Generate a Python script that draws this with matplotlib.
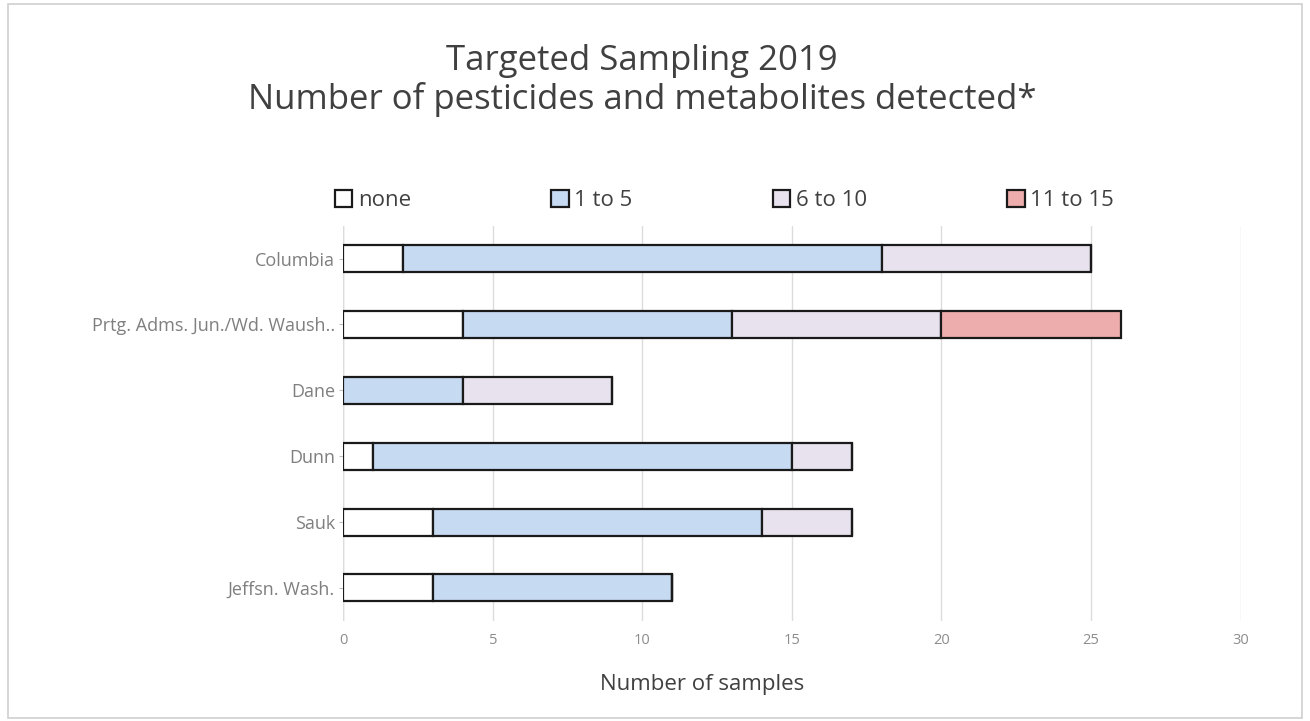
import matplotlib.pyplot as plt
import numpy as np

plt.rcParams['font.family'] = ['Open Sans', 'DejaVu Sans']

counties = ['Columbia', 'Prtg. Adms. Jun./Wd. Waush..', 'Dane', 'Dunn', 'Sauk', 'Jeffsn. Wash.']
none_vals = [2, 4, 0, 1, 3, 3]
one_to_five = [16, 9, 4, 14, 11, 8]
six_to_ten = [7, 7, 5, 2, 3, 0]
eleven_to_fifteen = [0, 6, 0, 0, 0, 0]

series = [
    ('none', none_vals, '#ffffff'),
    ('1 to 5', one_to_five, '#c6daf2'),
    ('6 to 10', six_to_ten, '#e8e2ee'),
    ('11 to 15', eleven_to_fifteen, '#eeadad'),
]

fig = plt.figure(figsize=(13.1, 7.21), dpi=100)
ax = fig.add_axes([0.262, 0.139, 0.685, 0.548])

y = np.arange(len(counties))
left = np.zeros(len(counties))
for label, vals, color in series:
    vals = np.array(vals, dtype=float)
    ax.barh(y, vals, left=left, height=0.41, color=color, edgecolor='#1a1a1a',
            linewidth=1.6, label=label, zorder=3)
    left += vals

ax.set_xlim(0, 30)
ax.set_ylim(len(counties) - 0.5, -0.5)
ax.set_yticks(y)
ax.set_yticklabels(counties, fontsize=13, color='#7f7f7f')
ax.set_xticks(np.arange(0, 31, 5))
ax.tick_params(axis='x', length=0, labelsize=10.5, labelcolor='#8c8c8c', pad=9)
ax.tick_params(axis='y', length=3, color='#bfbfbf', pad=3)
for s in ax.spines.values():
    s.set_visible(False)
ax.grid(axis='x', color='#dcdcdc', linewidth=1, zorder=0)
ax.axvline(0, color='#d9d9d9', linewidth=1, zorder=1)

ax.set_xlabel('Number of samples', fontsize=16, color='#404040')
ax.xaxis.set_label_coords(0.4, -0.135)

fig.text(0.49, 0.915, 'Targeted Sampling 2019', ha='center', va='center',
         fontsize=25, color='#404040')
fig.text(0.49, 0.862, 'Number of pesticides and metabolites detected*', ha='center',
         va='center', fontsize=25, color='#404040')

leg = fig.legend(loc='center', bbox_to_anchor=(0.553, 0.722), ncol=4, frameon=False,
                 fontsize=16, handlelength=0.8, handleheight=0.8, handletextpad=0.25,
                 columnspacing=6.3)
for t in leg.get_texts():
    t.set_color('#404040')

fig.patches.append(plt.Rectangle((0.006, 0.004), 0.988, 0.99, transform=fig.transFigure,
                                 fill=False, edgecolor='#d0d0d0', linewidth=1.2))

fig.savefig('out.png', dpi=100)
